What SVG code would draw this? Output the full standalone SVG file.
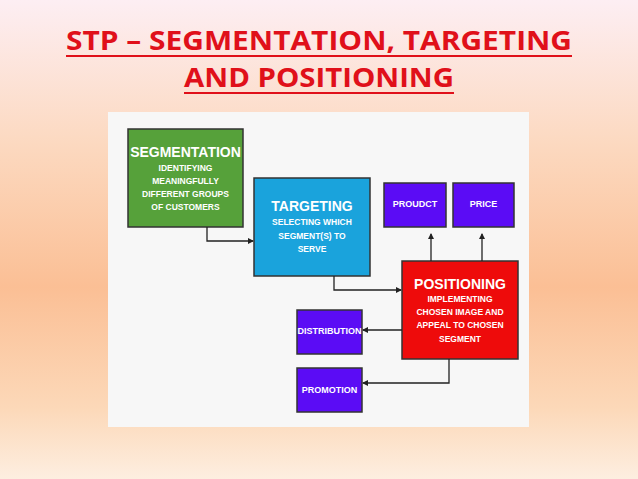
<svg xmlns="http://www.w3.org/2000/svg" width="638" height="479" viewBox="0 0 638 479">
<defs>
<linearGradient id="bg" x1="0" y1="0" x2="0" y2="1">
<stop offset="0" stop-color="#fdeef3"/>
<stop offset="0.3" stop-color="#fcd9c0"/>
<stop offset="0.6" stop-color="#fbbf95"/>
<stop offset="0.85" stop-color="#fcd8b8"/>
<stop offset="1" stop-color="#fdeee0"/>
</linearGradient>
<marker id="ah" markerWidth="6" markerHeight="6" refX="5" refY="3" orient="auto" markerUnits="userSpaceOnUse"><path d="M0,0 L6,3 L0,6 z" fill="#222"/></marker>
<style>
.box{stroke:#333;stroke-width:1.5}
.t{font-family:"Liberation Sans Narrow","Liberation Sans",sans-serif;font-weight:bold;fill:#fff;text-anchor:middle}
.h{font-size:14px}.s{font-size:8.5px}.p{font-size:9px}
.c{fill:none;stroke:#222;stroke-width:1.3;marker-end:url(#ah)}
</style>
</defs>
<rect width="638" height="479" fill="url(#bg)"/>
<g id="title" font-family="'Open Sans','Liberation Sans',sans-serif" font-weight="bold" font-size="27" fill="#e0101a" text-anchor="middle">
<text x="319" y="50" textLength="506" lengthAdjust="spacingAndGlyphs">STP – SEGMENTATION, TARGETING</text>
<text x="319" y="87" textLength="270" lengthAdjust="spacingAndGlyphs">AND POSITIONING</text>
<rect x="66" y="55" width="506" height="2"/>
<rect x="184" y="92" width="270" height="2"/>
</g>
<rect x="108" y="112" width="421" height="315" fill="#f7f7f7"/>
<g id="segmentation"><rect class="box" x="128" y="129" width="115" height="98" fill="#56a13a"/>
<text class="t h" x="185.5" y="157">SEGMENTATION</text>
<text class="t s" x="185.5" y="171">IDENTIFYING</text><text class="t s" x="185.5" y="184">MEANINGFULLY</text><text class="t s" x="185.5" y="197">DIFFERENT GROUPS</text><text class="t s" x="185.5" y="210">OF CUSTOMERS</text></g>
<g id="targeting"><rect class="box" x="254" y="178" width="116" height="98" fill="#1aa3dc"/>
<text class="t h" x="312" y="211">TARGETING</text>
<text class="t s" x="312" y="225">SELECTING WHICH</text><text class="t s" x="312" y="239">SEGMENT(S) TO</text><text class="t s" x="312" y="252">SERVE</text></g>
<g id="product"><rect class="box" x="384" y="183" width="62" height="44" fill="#5b0cf5"/><text class="t p" x="415" y="207">PROUDCT</text></g>
<g id="price"><rect class="box" x="453" y="183" width="61" height="44" fill="#5b0cf5"/><text class="t p" x="483.5" y="207">PRICE</text></g>
<g id="positioning"><rect class="box" x="402" y="261" width="116" height="98" fill="#ee0b0b"/>
<text class="t h" x="460" y="289">POSITIONING</text>
<text class="t s" x="460" y="302">IMPLEMENTING</text><text class="t s" x="460" y="315">CHOSEN IMAGE AND</text><text class="t s" x="460" y="328">APPEAL TO CHOSEN</text><text class="t s" x="460" y="342">SEGMENT</text></g>
<g id="distribution"><rect class="box" x="297" y="310" width="65" height="44" fill="#5b0cf5"/><text class="t p" x="329.5" y="334">DISTRIBUTION</text></g>
<g id="promotion"><rect class="box" x="297" y="368" width="65" height="44" fill="#5b0cf5"/><text class="t p" x="329.5" y="393">PROMOTION</text></g>
<g id="connectors">
<path class="c" d="M207,227 V241 H253"/>
<path class="c" d="M334,276 V290 H401"/>
<path class="c" d="M431,261 V234"/>
<path class="c" d="M482,261 V234"/>
<path class="c" d="M402,330 H363"/>
<path class="c" d="M449,359 V383 H363"/>
</g>
</svg>
